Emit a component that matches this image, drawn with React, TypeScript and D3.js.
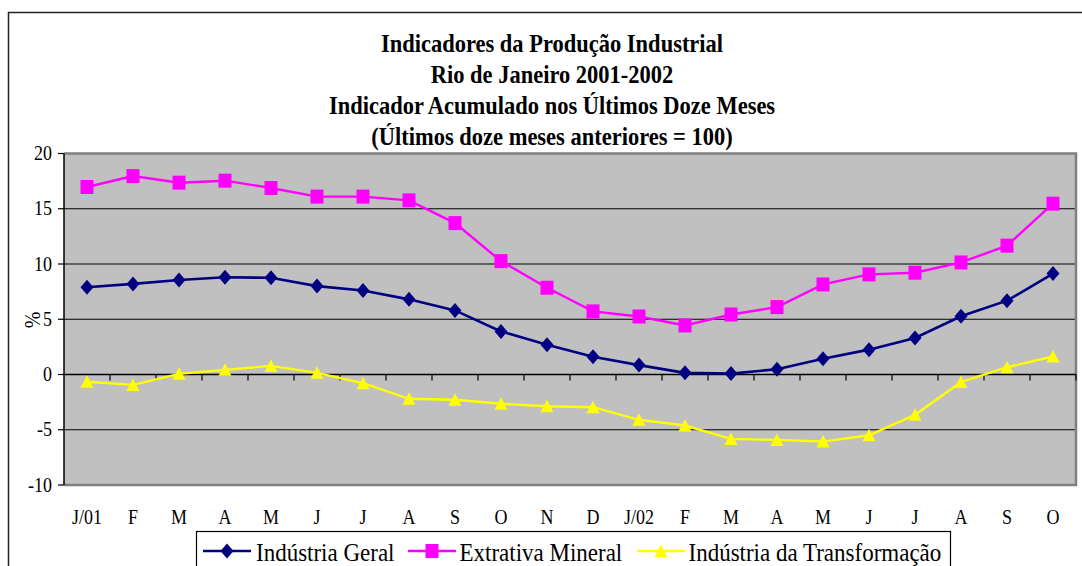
import React from "react";
import * as d3 from "d3";

const categories = ["J/01","F","M","A","M","J","J","A","S","O","N","D","J/02","F","M","A","M","J","J","A","S","O"];
const industriaGeral = [7.9,8.2,8.55,8.8,8.75,8.0,7.6,6.8,5.8,3.9,2.7,1.6,0.85,0.15,0.08,0.48,1.42,2.25,3.3,5.27,6.68,9.13];
const extrativaMineral = [16.97,17.96,17.36,17.54,16.88,16.1,16.1,15.76,13.7,10.26,7.85,5.71,5.25,4.44,5.43,6.1,8.15,9.06,9.21,10.14,11.66,15.46];
const transformacao = [-0.65,-0.94,0.06,0.42,0.78,0.15,-0.79,-2.2,-2.29,-2.65,-2.87,-2.96,-4.1,-4.62,-5.83,-5.92,-6.07,-5.5,-3.65,-0.69,0.66,1.63];
const yTicks = [-10,-5,0,5,10,15,20];
const titleLines = [
  "Indicadores da Produção Industrial",
  "Rio de Janeiro 2001-2002",
  "Indicador Acumulado nos Últimos Doze Meses",
  "(Últimos doze meses anteriores = 100)",
];
const seriesNames = ["Indústria Geral","Extrativa Mineral","Indústria da Transformação"];

const FONT = "'Liberation Serif', 'Times New Roman', serif";
const SY = 1.12;

const L = 64, R = 1076, T = 153.5, B = 485;

function T2({x, y, anchor = "middle", size, bold = false, children, rotate = 0, sy = SY}: any) {
  const tr = rotate ? `translate(${x},${y}) rotate(${rotate}) scale(1,${sy})` : `translate(${x},${y}) scale(1,${sy})`;
  return (
    <text transform={tr} textAnchor={anchor} fontFamily={FONT} fontSize={size} fontWeight={bold ? "bold" : "normal"} fill="#000">
      {children}
    </text>
  );
}

const diamond = (cx: number, cy: number) => `M${cx},${cy-7.5}L${cx+6.5},${cy}L${cx},${cy+7.5}L${cx-6.5},${cy}Z`;
const square = (cx: number, cy: number) => `M${cx-6.5},${cy-7}h13v14h-13Z`;
const triangle = (cx: number, cy: number) => `M${cx},${cy-6.5}L${cx+6.5},${cy+6}L${cx-6.5},${cy+6}Z`;

export default function App() {
  const x = d3.scaleBand<number>().domain(d3.range(categories.length)).range([L, R]);
  const y = d3.scaleLinear().domain([-10, 20]).range([B, T]);
  const cx = (i: number) => (x(i) as number) + x.bandwidth() / 2;
  const line = d3.line<number>().x((_, i) => cx(i)).y((d) => y(d));

  const series = [
    { data: industriaGeral, color: "#000080", marker: diamond, w: 2.6 },
    { data: extrativaMineral, color: "#FF00FF", marker: square, w: 2.4 },
    { data: transformacao, color: "#FFFF00", marker: triangle, w: 2.4 },
  ];

  const legendItems = [
    { lx: 203, tx: 256 },
    { lx: 408, tx: 459.5 },
    { lx: 637, tx: 688.5 },
  ];

  return (
    <svg width={1082} height={566} style={{ position: "absolute", left: 0, top: 0, background: "#fff" }}>
      <rect x={8.5} y={12.5} width={1200} height={700} fill="#fff" stroke="#222" strokeWidth={1.5} />
      {titleLines.map((t, i) => (
        <T2 key={i} x={552} y={51.5 + i * 31.2} size={22.5} bold>{t}</T2>
      ))}
      <rect x={L} y={T} width={R - L} height={B - T} fill="#C0C0C0" />
      {yTicks.filter((v) => v !== -10 && v !== 20 && v !== 0).map((v) => (
        <line key={v} x1={L} x2={R} y1={y(v)} y2={y(v)} stroke="#000" strokeWidth={1.2} />
      ))}
      <path d={`M${L},${T}H${R}V${B}H${L}`} fill="none" stroke="#808080" strokeWidth={2.5} />
      <line x1={L} x2={R} y1={y(0)} y2={y(0)} stroke="#000" strokeWidth={1.3} />
      {d3.range(1, categories.length + 1).map((k) => (
        <line key={k} x1={L + k * x.bandwidth()} x2={L + k * x.bandwidth()} y1={y(0)} y2={y(0) + 6} stroke="#000" strokeWidth={1.2} />
      ))}
      <line x1={L} x2={L} y1={T} y2={B} stroke="#000" strokeWidth={1.5} />
      {yTicks.map((v) => (
        <g key={v}>
          <line x1={L - 6} x2={L} y1={y(v)} y2={y(v)} stroke="#000" strokeWidth={1.2} />
          <T2 x={52} y={y(v) + 6.5} anchor="end" size={18}>{v}</T2>
        </g>
      ))}
      <T2 x={40} y={320} size={20} rotate={-90}>%</T2>
      {categories.map((c, i) => (
        <T2 key={i} x={cx(i)} y={524} size={18}>{c}</T2>
      ))}
      {series.map((s, si) => (
        <g key={si}>
          <path d={line(s.data) as string} fill="none" stroke={s.color} strokeWidth={s.w} />
          {s.data.map((v, i) => (
            <path key={i} d={s.marker(cx(i), y(v))} fill={s.color} />
          ))}
        </g>
      ))}
      <rect x={196.5} y={531.5} width={754} height={60} fill="#fff" stroke="#000" strokeWidth={1.2} />
      {series.map((s, si) => (
        <g key={si}>
          <line x1={legendItems[si].lx} x2={legendItems[si].lx + 48} y1={551} y2={551} stroke={s.color} strokeWidth={2.6} />
          <path d={s.marker(legendItems[si].lx + 24, 551)} fill={s.color} />
          <T2 x={legendItems[si].tx} y={560.5} anchor="start" size={23} sy={1.08}>{seriesNames[si]}</T2>
        </g>
      ))}
    </svg>
  );
}
